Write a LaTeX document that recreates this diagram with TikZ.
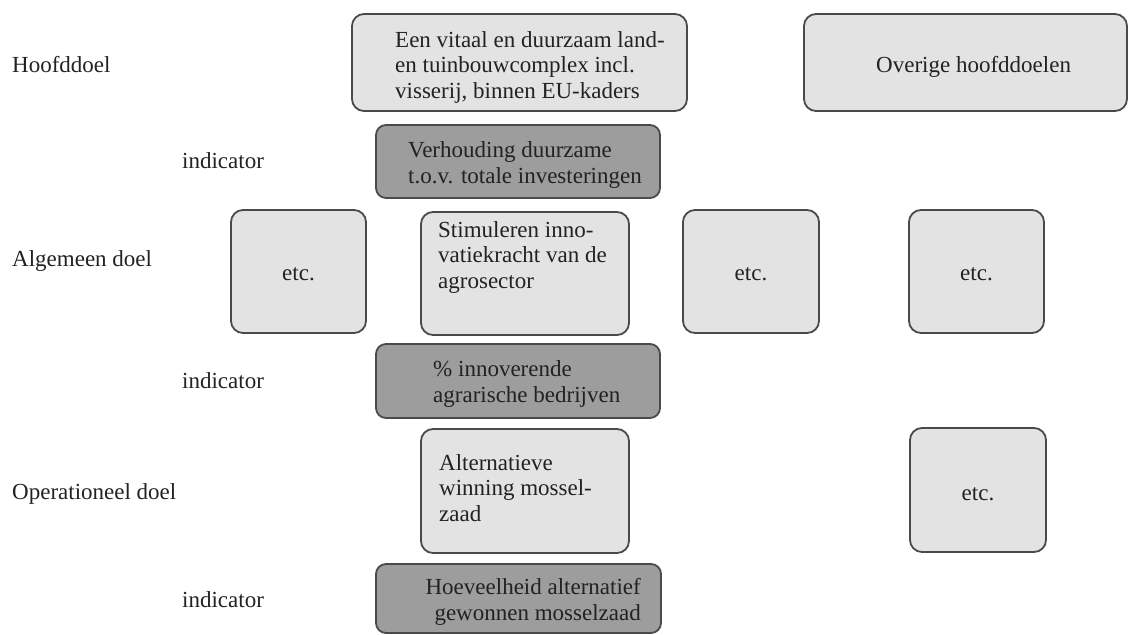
\documentclass[tikz,border=0pt]{standalone}
\usepackage{fontspec}
\setmainfont{Liberation Serif}
\definecolor{lightfill}{HTML}{E3E3E3}
\definecolor{darkfill}{HTML}{9D9D9D}
\definecolor{edgecol}{HTML}{4A4A4A}
\definecolor{ink}{HTML}{222222}
\tikzset{
  goalbox/.style={draw=edgecol, line width=1.8pt, fill=lightfill, rounded corners=12pt,
    inner sep=0pt, outer sep=0pt, anchor=north west},
  indbox/.style={goalbox, fill=darkfill, rounded corners=10pt},
  txt/.style={font=\fontsize{23}{25.3}\selectfont, text=ink, inner sep=0pt, align=left},
  lbl/.style={font=\fontsize{23}{25.3}\selectfont, text=ink, inner sep=0pt, anchor=base west}
}
\begin{document}
\begin{tikzpicture}[x=1pt,y=-1pt]
\useasboundingbox (0,0) rectangle (1128,635);
% row labels
\node[lbl] (lh) at (12,72) {Hoofddoel};
\node[lbl] (li1) at (182,168) {indicator};
\node[lbl] (la) at (12,266) {Algemeen doel};
\node[lbl] (li2) at (182,388) {indicator};
\node[lbl] (lo) at (12,499) {Operationeel doel};
\node[lbl] (li3) at (182,607) {indicator};
% Hoofddoel row (base anchor = baseline of the last line)
\node[goalbox, minimum width=335, minimum height=97] (h1) at (352,14) {};
\node[txt, anchor=base west] (h1t) at (395,98) {Een vitaal en duurzaam land-\\en tuinbouwcomplex incl.\\visserij, binnen EU-kaders};
\node[goalbox, minimum width=323, minimum height=97] (h2) at (804,14) {};
\node[txt, anchor=base west] (h2t) at (876,72) {Overige hoofddoelen};
\node[indbox, minimum width=284, minimum height=73] (i1) at (376,125) {};
\node[txt, anchor=base west] (i1t) at (408,183) {Verhouding duurzame\\t.o.v. totale investeringen};
% Algemeen doel row
\node[goalbox, minimum width=135, minimum height=123] (a1) at (231,210) {};
\node[txt, anchor=base] (a1t) at (298.5,280) {etc.};
\node[goalbox, minimum width=208, minimum height=123] (a2) at (421,212) {};
\node[txt, anchor=base west] (a2t) at (438,288) {Stimuleren inno-\\vatiekracht van de\\agrosector};
\node[goalbox, minimum width=136, minimum height=123] (a3) at (683,210) {};
\node[txt, anchor=base] (a3t) at (751,280) {etc.};
\node[goalbox, minimum width=135, minimum height=123] (a4) at (909,210) {};
\node[txt, anchor=base] (a4t) at (976.5,280) {etc.};
\node[indbox, minimum width=284, minimum height=74] (i2) at (376,344) {};
\node[txt, anchor=base west] (i2t) at (433,402) {\% innoverende\\agrarische bedrijven};
% Operationeel doel row
\node[goalbox, minimum width=208, minimum height=124] (o1) at (421,429) {};
\node[txt, anchor=base west] (o1t) at (439,521) {Alternatieve\\winning mossel-\\zaad};
\node[goalbox, minimum width=136, minimum height=124] (o2) at (910,428) {};
\node[txt, anchor=base] (o2t) at (978,500) {etc.};
\node[indbox, minimum width=285, minimum height=69] (i3) at (376,564) {};
\node[txt, anchor=base east, align=right] (i3t) at (641,620) {Hoeveelheid alternatief\\gewonnen mosselzaad};
\end{tikzpicture}
\end{document}
